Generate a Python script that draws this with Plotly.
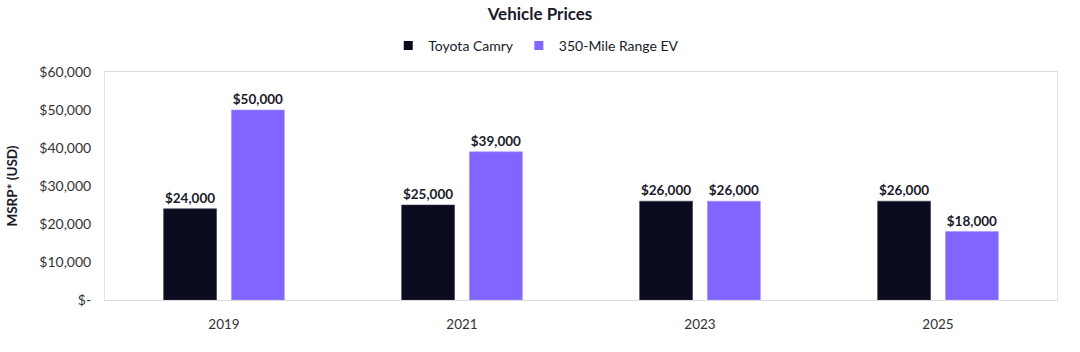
import plotly.graph_objects as go

years = ["2019", "2021", "2023", "2025"]
camry = [24000, 25000, 26000, 26000]
ev = [50000, 39000, 26000, 18000]
tick_vals = [0, 10000, 20000, 30000, 40000, 50000, 60000]
tick_text = ["$-", "$10,000", "$20,000", "$30,000", "$40,000", "$50,000", "$60,000"]

FONT = "Lato"
DARK = "#0b0b20"
PURPLE = "#8264ff"

fig = go.Figure()
fig.add_trace(go.Bar(
    x=years, y=camry, name="Toyota Camry", showlegend=False,
    marker=dict(color=DARK, line=dict(color="#3a3a4a", width=0.6)),
    text=[f"${v:,.0f}" for v in camry], textposition="outside",
    textfont=dict(family=FONT, size=13.5, color="#1a1a2a", weight="bold"),
    cliponaxis=False,
))
fig.add_trace(go.Bar(
    x=years, y=ev, name="350-Mile Range EV", showlegend=False,
    marker=dict(color=PURPLE, line=dict(color="#a890ff", width=0.6)),
    text=[f"${v:,.0f}" for v in ev], textposition="outside",
    textfont=dict(family=FONT, size=13.5, color="#1a1a2a", weight="bold"),
    cliponaxis=False,
))
# legend entries with small square markers
for name, col in [("Toyota Camry", DARK), ("350-Mile Range EV", PURPLE)]:
    fig.add_trace(go.Scatter(
        x=[None], y=[None], mode="markers", name=name,
        marker=dict(symbol="square", size=9, color=col),
    ))

fig.update_layout(
    width=1080, height=352,
    margin=dict(l=105, r=23, t=72, b=52, autoexpand=False),
    paper_bgcolor="white", plot_bgcolor="white",
    font=dict(family=FONT, size=14, color="#333"),
    title=dict(text="<b>Vehicle Prices</b>", x=0.5, xanchor="center", y=0.96, yanchor="middle",
               font=dict(family=FONT, size=17, color="#1a1a2a")),
    legend=dict(orientation="h", x=0.453, xanchor="center",
                y=1.115, yanchor="middle",
                font=dict(family=FONT, size=14, color="#1a1a2a"), itemwidth=30,
                traceorder="normal", tracegroupgap=0),
    barmode="group", bargap=0.43, bargroupgap=0.22,
    showlegend=True,
)
fig.update_xaxes(showline=True, linecolor="#dcdcdc", linewidth=1, mirror=True,
                 ticks="outside", ticklen=12, tickcolor="rgba(0,0,0,0)",
                 tickfont=dict(size=13.5, color="#333"))
fig.update_yaxes(range=[0, 60000], tickvals=tick_vals, ticktext=tick_text,
                 showgrid=False, zeroline=False,
                 showline=True, linecolor="#e4e4e4", linewidth=1, mirror=True,
                 ticks="outside", ticklen=10, tickcolor="rgba(0,0,0,0)",
                 tickfont=dict(size=14, color="#333"),
                 title=dict(text="<b>MSRP* (USD)</b>", font=dict(size=13.5, color="#1a1a2a"), standoff=18))

fig.write_html("out.html")
